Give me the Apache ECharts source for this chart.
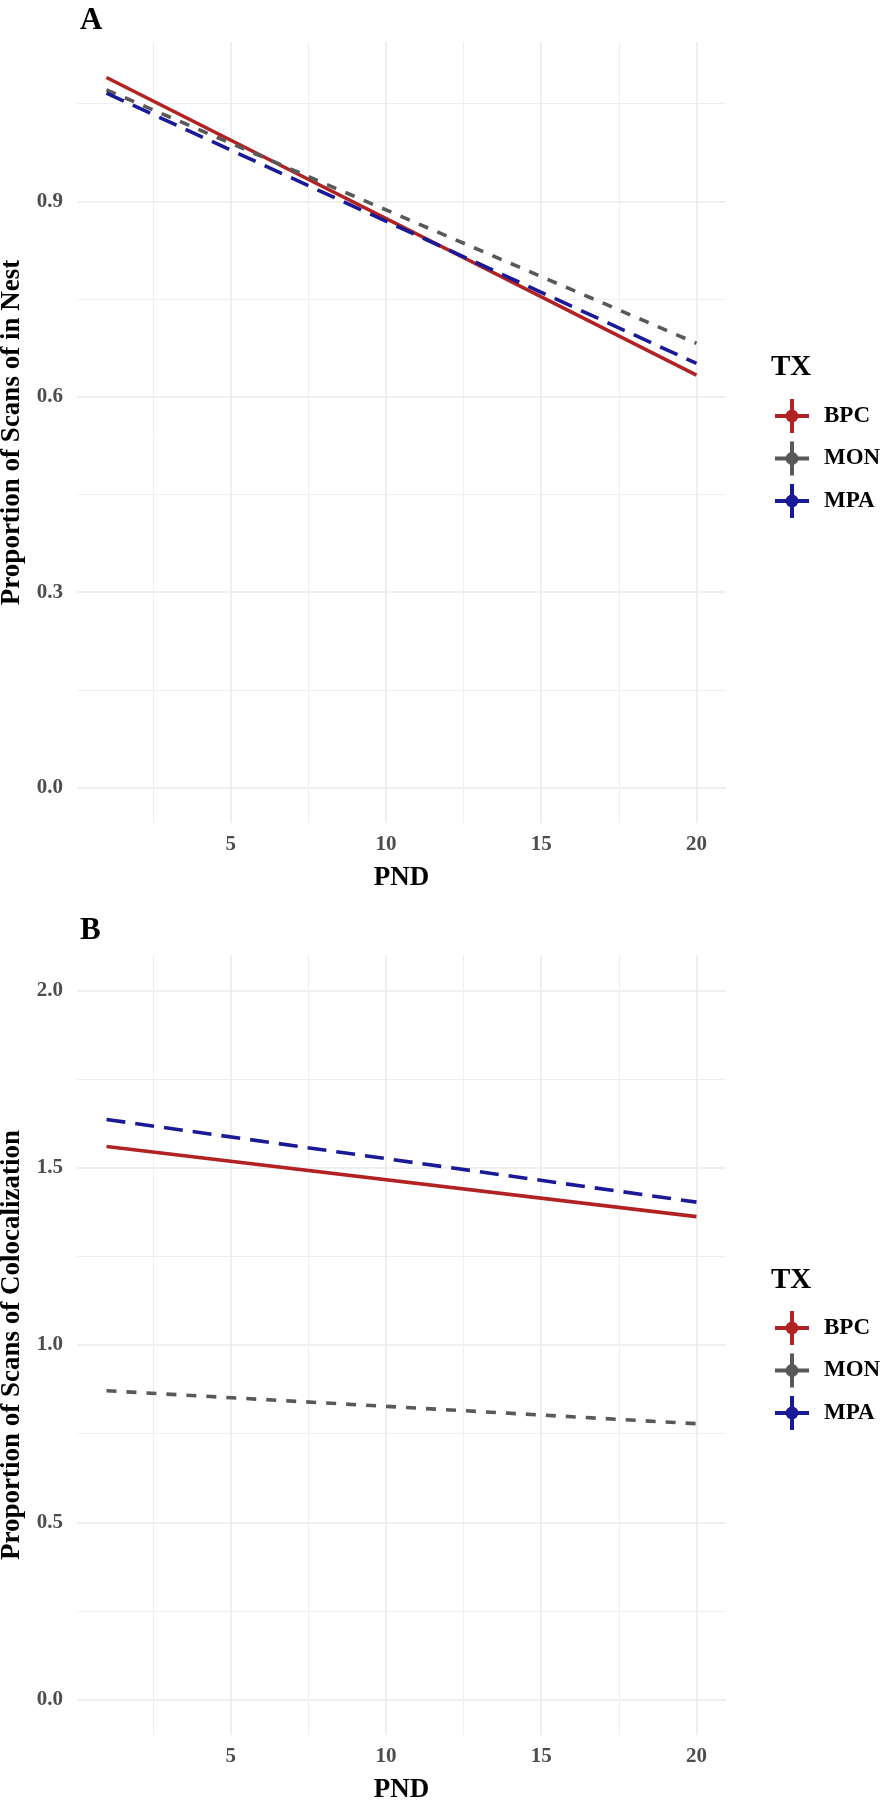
<!DOCTYPE html>
<html>
<head>
<meta charset="utf-8">
<script src="https://cdn.jsdelivr.net/npm/echarts@6/dist/echarts.min.js"></script>
<style>
  html, body { margin: 0; padding: 0; background: #fff; }
  #chart { width: 880px; height: 1800px; }
</style>
</head>
<body>
<div id="chart"></div>
<script>
// PND values where each fitted line is drawn
var pnd = [1, 20];
var groups = ['BPC', 'MON', 'MPA'];

// panel A: proportion of scans in nest
var nestBPC = [1.090, 0.633];
var nestMON = [1.071, 0.682];
var nestMPA = [1.066, 0.651];

// panel B: proportion of scans of colocalization
var colocBPC = [1.560, 1.362];
var colocMON = [0.871, 0.778];
var colocMPA = [1.636, 1.403];

var xTicks = [5, 10, 15, 20];
var xMinor = [2.5, 7.5, 12.5, 17.5];
var yTicksA = [0, 0.3, 0.6, 0.9];
var yMinorA = [0.15, 0.45, 0.75, 1.05];
var yTicksB = [0, 0.5, 1, 1.5, 2];
var yMinorB = [0.25, 0.75, 1.25, 1.75];

var FONT = 'Liberation Serif';
var colors = { BPC: '#b22222', MON: '#595959', MPA: '#1a1a99' };
var dashes = { BPC: 'solid', MON: [10, 10], MPA: [19, 10] };

function pairs(ys) {
  return pnd.map(function (x, i) { return [x, ys[i]]; });
}

function xAxes(gridIndex) {
  var major = {
    type: 'value', gridIndex: gridIndex, min: 0.05, max: 20.95,
    axisLine: { show: false }, axisTick: { show: false, customValues: xTicks },
    axisLabel: { customValues: xTicks, margin: 11, color: '#4d4d4d', fontFamily: FONT, fontWeight: 'bold', fontSize: 21 },
    splitLine: { show: true, lineStyle: { color: '#ebebeb', width: 1.6 } },
    name: 'PND', nameLocation: 'middle', nameGap: 42,
    nameTextStyle: { color: '#000', fontFamily: FONT, fontWeight: 'bold', fontSize: 27 }
  };
  var minor = {
    type: 'value', gridIndex: gridIndex, min: 0.05, max: 20.95,
    axisLine: { show: false }, axisTick: { show: false, customValues: xMinor },
    axisLabel: { show: false },
    splitLine: { show: true, lineStyle: { color: '#efefef', width: 1 } }
  };
  return [major, minor];
}

function yAxes(gridIndex, min, max, ticks, minors, title) {
  var major = {
    type: 'value', gridIndex: gridIndex, min: min, max: max,
    axisLine: { show: false }, axisTick: { show: false, customValues: ticks },
    axisLabel: {
      customValues: ticks, margin: 14, color: '#4d4d4d', fontFamily: FONT, fontWeight: 'bold', fontSize: 21,
      formatter: function (v) { return v.toFixed(1); }
    },
    splitLine: { show: true, lineStyle: { color: '#ebebeb', width: 1.6 } },
    name: title, nameLocation: 'middle', nameGap: 50, nameRotate: 90,
    nameTextStyle: { color: '#000', fontFamily: FONT, fontWeight: 'bold', fontSize: 27 }
  };
  var minor = {
    type: 'value', gridIndex: gridIndex, min: min, max: max,
    axisLine: { show: false }, axisTick: { show: false, customValues: minors },
    axisLabel: { show: false },
    splitLine: { show: true, lineStyle: { color: '#efefef', width: 1 } }
  };
  return [major, minor];
}

function lineSeries(name, data, axisIdx) {
  return {
    name: name, type: 'line', data: pairs(data),
    xAxisIndex: axisIdx, yAxisIndex: axisIdx,
    showSymbol: false, symbol: 'none', silent: true, animation: false,
    itemStyle: { color: colors[name] },
    lineStyle: { color: colors[name], width: 3.6, type: dashes[name] }
  };
}

var legendIcon = 'path://M0,15h34v4h-34z M15,0h4v34h-4z M23.5,17a6.5,6.5 0 1,1 -13,0a6.5,6.5 0 1,1 13,0z';

function legendAt(top) {
  return {
    orient: 'vertical', left: 770, top: top, itemWidth: 34, itemHeight: 34, itemGap: 8.5,
    icon: legendIcon, selectedMode: false, data: groups,
    textStyle: { color: '#000', fontFamily: FONT, fontWeight: 'bold', fontSize: 23, padding: [0, 0, 0, 10] }
  };
}

var chart = echarts.init(document.getElementById('chart'), null, { renderer: 'canvas' });

var option = {
  backgroundColor: '#fff',
  animation: false,
  title: [
    { text: 'A', left: 75, top: 0, textStyle: { fontFamily: FONT, fontWeight: 'bold', fontSize: 31, color: '#000' } },
    { text: 'B', left: 75, top: 910, textStyle: { fontFamily: FONT, fontWeight: 'bold', fontSize: 31, color: '#000' } },
    { text: 'TX', left: 766, top: 348, textStyle: { fontFamily: FONT, fontWeight: 'bold', fontSize: 29, color: '#000' } },
    { text: 'TX', left: 766, top: 1261, textStyle: { fontFamily: FONT, fontWeight: 'bold', fontSize: 29, color: '#000' } }
  ],
  legend: [legendAt(394), legendAt(1306)],
  grid: [
    { left: 77, top: 42, width: 649, height: 781, containLabel: false, outerBoundsMode: 'none' },
    { left: 77, top: 955, width: 649, height: 780, containLabel: false, outerBoundsMode: 'none' }
  ],
  xAxis: xAxes(0).concat(xAxes(1)),
  yAxis: yAxes(0, -0.0545, 1.1445, yTicksA, yMinorA, 'Proportion of Scans of in Nest')
    .concat(yAxes(1, -0.1, 2.1, yTicksB, yMinorB, 'Proportion of Scans of Colocalization')),
  series: [
    lineSeries('BPC', nestBPC, 0),
    lineSeries('MON', nestMON, 0),
    lineSeries('MPA', nestMPA, 0),
    lineSeries('BPC', colocBPC, 2),
    lineSeries('MON', colocMON, 2),
    lineSeries('MPA', colocMPA, 2)
  ]
};

chart.setOption(option);
</script>
</body>
</html>
